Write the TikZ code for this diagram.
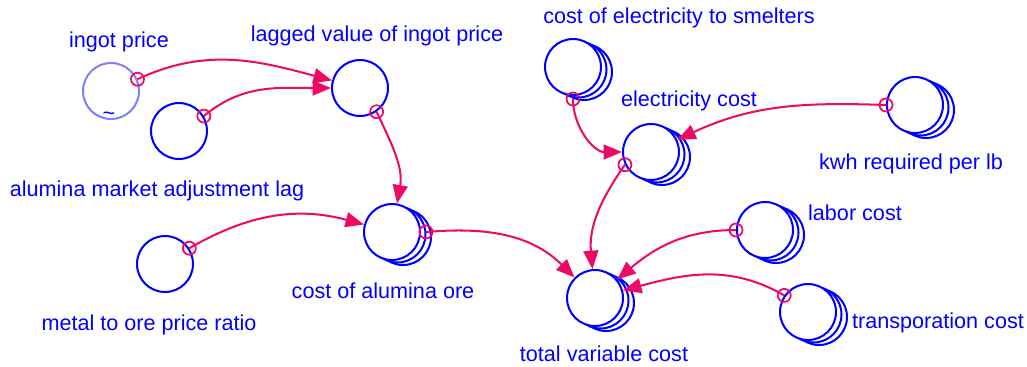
\documentclass[tikz,border=0pt]{standalone}
\usepackage{fontspec}
\setmainfont{Liberation Sans}
\usetikzlibrary{arrows.meta,shadows}
\definecolor{linkpink}{RGB}{238,10,100}

\begin{document}
\begin{tikzpicture}[x=0.02cm,y=0.02cm,
   var/.style={circle,draw=blue,line width=1.15pt,fill=white,minimum size=1.12cm,
      inner sep=0pt},
   lightvar/.style={var,draw=blue!50},
   stackvar/.style={var,
      copy shadow={shadow xshift=0.22cm,shadow yshift=-0.1cm,draw=blue,fill=white,line width=1.15pt},
      copy shadow={shadow xshift=0.11cm,shadow yshift=-0.05cm,draw=blue,fill=white,line width=1.15pt}},
   tap/.style={circle,draw=linkpink,line width=1pt,minimum size=0.26cm,inner sep=0pt},
   link/.style={draw=linkpink,line width=1.15pt,-{Triangle[length=10.5pt,width=8.5pt]}},
   lbl/.style={text=blue,anchor=base,font=\fontsize{12.3}{14}\selectfont}
]
   \useasboundingbox (0,0) rectangle (1027,-366);

   % variables
   \node[lightvar] (ingot) at (111,-91) {};
   \node[text=blue,font=\fontsize{12.3}{14}\selectfont] (tilde) at (109,-116) {\textasciitilde};
   \node[var] (almlag) at (179,-131) {};
   \node[var] (lagged) at (360,-88) {};
   \node[var] (ratio) at (165,-264) {};
   \node[stackvar] (alumina) at (392,-232) {};
   \node[stackvar] (smelter) at (573,-67) {};
   \node[stackvar] (elec) at (651,-152) {};
   \node[stackvar] (kwh) at (915,-105) {};
   \node[stackvar] (labor) at (765,-230) {};
   \node[stackvar] (total) at (595,-298) {};
   \node[stackvar] (transp) at (808,-312) {};

   % labels
   \node[lbl] (ingot-l) at (119,-47) {ingot price};
   \node[lbl] (lagged-l) at (377,-41) {lagged value of ingot price};
   \node[lbl] (almlag-l) at (157,-196) {alumina market adjustment lag};
   \node[lbl] (smelter-l) at (679,-23) {cost of electricity to smelters};
   \node[lbl] (elec-l) at (689,-106) {electricity cost};
   \node[lbl] (kwh-l) at (911,-169) {kwh required per lb};
   \node[lbl] (labor-l) at (855,-220) {labor cost};
   \node[lbl] (alumina-l) at (383,-298) {cost of alumina ore};
   \node[lbl] (ratio-l) at (149,-330) {metal to ore price ratio};
   \node[lbl] (total-l) at (604,-361) {total variable cost};
   \node[lbl] (transp-l) at (938,-328) {transporation cost};

   % connectors
   \coordinate (ingot-s) at (ingot.24);
   \coordinate (almlag-s) at (almlag.31);
   \coordinate (lagged-s) at (lagged.-55);
   \coordinate (ratio-s) at (ratio.33);
   \coordinate (alumina-s) at ([xshift=0.1cm]alumina.east);
   \coordinate (smelter-s) at ([yshift=-0.06cm]smelter.south);
   \coordinate (kwh-s) at (kwh.west);
   \coordinate (elec-s) at (elec.206);
   \coordinate (labor-s) at (labor.west);
   \coordinate (transp-s) at (transp.145);

   \foreach \s/\t/\o/\i in {ingot/lagged/25/165,almlag/lagged/40/180,
         lagged/alumina/-65/80,ratio/alumina/30/165,alumina/total/5/135,
         smelter/elec/-90/180,kwh/elec/178/25,elec/total/235/95,
         labor/total/180/40,transp/total/150/15} {
      \draw[link] (\s-s) to[out=\o,in=\i] (\t);
      \node[tap] (\s-o) at (\s-s) {};
   }
\end{tikzpicture}
\end{document}
